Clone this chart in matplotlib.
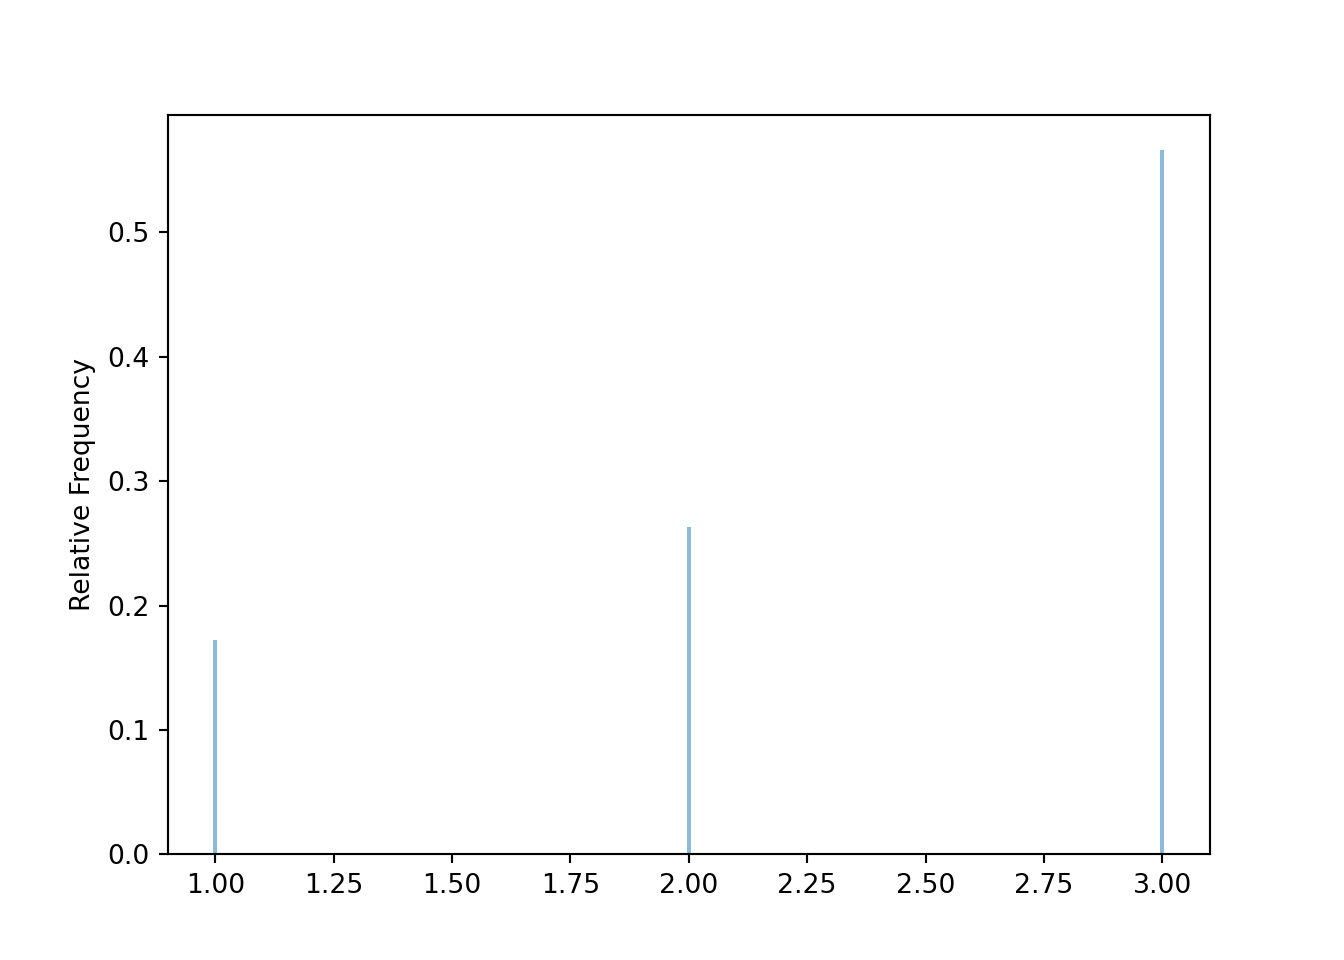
import matplotlib
matplotlib.use("Agg")
import matplotlib.pyplot as plt

values = [1, 2, 3]
rel_freq = [0.172, 0.263, 0.566]

fig = plt.figure(figsize=(7, 5), dpi=192)
plt.bar(values, rel_freq, width=0.0085, alpha=0.5)
plt.xlim(0.9, 3.1)
plt.ylabel("Relative Frequency")
plt.savefig("out.png")
plt.close()
